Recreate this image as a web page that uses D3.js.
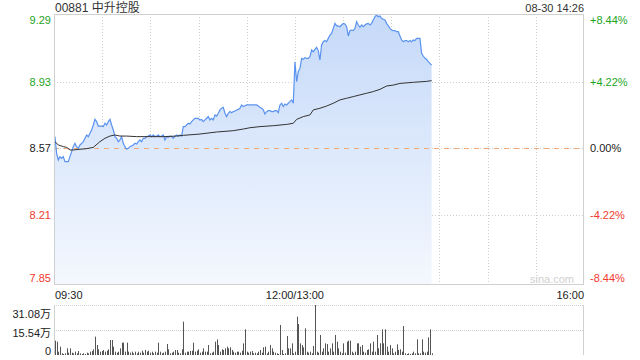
<!DOCTYPE html>
<html><head><meta charset="utf-8">
<script src="https://cdn.jsdelivr.net/npm/d3@7/dist/d3.min.js"></script>
<style>body{margin:0;background:#fff}svg{display:block}</style>
</head><body>
<svg id="c" width="640" height="360"></svg>
<script>
const stockTitle = "00881 中升控股";
const stampText = "08-30 14:26";
const prevClose = 8.57;
const priceTicks = [9.29, 8.93, 8.57, 8.21, 7.85];
const pctTicks = ["+8.44%", "+4.22%", "0.00%", "-4.22%", "-8.44%"];
const timeTicks = [0, 150, 330];
const timeLabels = ["09:30", "12:00/13:00", "16:00"];
const volTickValues = [31.08, 15.54, 0];
const volTickLabels = ["31.08万", "15.54万", "0"];
const sessionMinutes = 330;
const sampleStart = 0.6;    // minutes after 09:30 of first sample
const sampleStep = 1.0377;  // minutes between samples

const prices = [
8.634,8.544,8.508,8.526,8.517,8.526,8.499,8.499,8.499,8.526,
8.553,8.580,8.598,8.580,8.571,8.589,8.598,8.607,8.625,8.643,
8.634,8.652,8.670,8.697,8.727,8.715,8.691,8.691,8.691,8.688,
8.706,8.697,8.715,8.727,8.697,8.670,8.634,8.625,8.607,8.616,
8.634,8.598,8.580,8.566,8.571,8.580,8.584,8.589,8.598,8.594,
8.607,8.616,8.607,8.625,8.625,8.634,8.637,8.643,8.634,8.643,
8.634,8.637,8.643,8.634,8.637,8.643,8.616,8.634,8.630,8.637,
8.634,8.625,8.637,8.643,8.637,8.643,8.637,8.688,8.688,8.697,
8.706,8.702,8.715,8.724,8.733,8.733,8.733,8.724,8.727,8.715,
8.724,8.733,8.742,8.724,8.733,8.724,8.751,8.745,8.760,8.778,
8.787,8.792,8.760,8.742,8.760,8.769,8.763,8.769,8.772,8.778,
8.781,8.787,8.805,8.796,8.801,8.805,8.805,8.805,8.805,8.805,
8.805,8.805,8.799,8.792,8.787,8.778,8.756,8.769,8.774,8.774,
8.769,8.769,8.774,8.774,8.763,8.805,8.814,8.796,8.810,8.805,
8.814,8.823,8.832,8.814,9.038,8.930,8.984,9.002,9.056,9.051,
9.060,9.056,9.056,9.065,9.101,9.092,9.105,9.116,9.098,9.047,
9.128,9.146,9.152,9.146,9.164,9.182,9.191,9.218,9.245,9.231,
9.231,9.227,9.236,9.245,9.242,9.227,9.177,9.206,9.209,9.206,
9.218,9.254,9.236,9.224,9.236,9.227,9.236,9.242,9.245,9.236,
9.245,9.263,9.281,9.290,9.281,9.285,9.272,9.267,9.263,9.245,
9.231,9.218,9.209,9.206,9.206,9.200,9.200,9.177,9.155,9.146,
9.152,9.152,9.146,9.152,9.146,9.155,9.152,9.164,9.164,9.164,
9.083,9.069,9.056,9.051,9.038,9.029,9.020
];

const avgIndex = [0,2,5,7,9,11,15,19,23,27,30,33,36,39,43,49,57,65,73,77,87,97,107,113,117,123,131,139,143,145,149,153,155,159,163,167,171,175,179,183,187,191,195,199,203,207,215,223,226];
const avgPrice = [8.607,8.589,8.580,8.576,8.562,8.562,8.566,8.569,8.576,8.607,8.625,8.637,8.643,8.637,8.637,8.634,8.634,8.634,8.637,8.641,8.648,8.659,8.666,8.675,8.682,8.688,8.693,8.700,8.706,8.727,8.742,8.751,8.778,8.787,8.799,8.814,8.832,8.841,8.850,8.859,8.868,8.877,8.889,8.907,8.912,8.921,8.927,8.932,8.936];

// volume in 万 shares
const volumes = [
8.91,8.29,2.07,5.18,1.04,0.62,1.04,4.14,1.45,4.14,
1.45,1.04,2.07,1.04,2.49,1.04,0.62,1.04,0.62,1.45,
1.04,2.07,2.49,3.52,11.40,6.22,3.52,2.07,2.49,3.11,
2.07,2.69,3.52,9.32,9.32,5.18,2.07,1.45,2.07,4.14,
7.67,7.67,2.07,7.67,2.07,1.45,2.07,1.04,2.07,1.04,
2.07,1.45,2.69,1.45,3.11,2.07,2.69,1.45,2.07,1.04,
2.07,1.45,7.67,2.07,1.04,1.45,2.07,6.84,3.52,1.04,
1.45,2.07,3.11,3.11,1.45,1.04,3.52,20.72,1.45,2.07,
2.07,2.49,2.69,7.67,2.07,2.69,3.52,1.45,2.07,4.14,
2.07,2.07,6.22,1.04,1.45,2.07,8.29,9.74,6.22,2.07,
3.52,3.11,4.14,5.18,4.14,4.77,3.11,2.07,1.45,2.07,
2.07,1.45,2.69,7.25,15.95,2.07,1.45,2.07,2.49,1.04,
1.45,1.04,2.07,3.11,1.45,4.77,5.18,1.04,2.07,6.22,
4.14,2.07,1.45,1.04,0.62,18.65,3.11,0.62,1.04,11.81,
4.14,4.14,7.25,1.04,2.07,23.83,19.27,7.25,6.22,4.77,
16.58,2.07,1.45,2.07,1.04,5.59,31.08,2.07,1.45,12.43,
2.07,4.14,7.25,6.84,2.07,4.14,7.25,2.07,12.43,8.29,
4.14,2.07,1.04,7.25,1.45,8.29,8.91,8.91,2.07,1.04,
2.07,7.25,7.25,5.18,6.22,2.07,1.45,3.11,3.52,7.25,
2.07,8.29,2.07,12.43,4.14,7.25,15.95,7.25,15.95,5.18,
2.07,6.22,4.14,1.04,2.07,6.63,3.11,3.52,2.07,18.03,
1.04,0.62,1.04,0.62,1.04,2.07,1.04,9.74,1.04,1.04,
9.74,2.07,1.45,2.07,10.98,15.95,1.04
];

const GREEN = "#1ea51e", RED = "#f03a2e", DARK = "#222";
const FONT = "Arial, 'Liberation Sans', 'Noto Sans CJK SC', sans-serif";
const svg = d3.select("#c").style("font-family", FONT);

const L = 54, R = 584, T = 14, B = 284;
const VT = 305, VB = 355;
const x = d3.scaleLinear().domain([0, sessionMinutes]).range([L, R]);
const y = d3.scaleLinear().domain([7.85, 9.29]).range([282, 15]);
const yv = d3.scaleLinear().domain([0, 31.08]).range([VB, VT]);
const tOf = i => sampleStart + i * sampleStep;

const defs = svg.append("defs");
const grad = defs.append("linearGradient").attr("id", "fillG")
  .attr("gradientUnits", "userSpaceOnUse").attr("x1", 0).attr("x2", 0).attr("y1", T).attr("y2", B);
grad.append("stop").attr("offset", 0).attr("stop-color", "#c5d9f9");
grad.append("stop").attr("offset", 1).attr("stop-color", "#f4f8fe");

// title
svg.append("text").attr("x", L + 1).attr("y", 12).attr("font-size", 12).attr("fill", "#333").text(stockTitle);
svg.append("text").attr("x", R).attr("y", 12).attr("font-size", 11).attr("text-anchor", "end").attr("fill", "#333").text(stampText);

// grid
const gridMinutes = d3.range(30, sessionMinutes, 30);
svg.append("g").selectAll("line").data(gridMinutes).join("line")
  .attr("x1", d => Math.round(x(d)) + 0.5).attr("x2", d => Math.round(x(d)) + 0.5)
  .attr("y1", T).attr("y2", B).attr("stroke", "#cfcfcf").attr("stroke-dasharray", "1,2");
svg.append("g").selectAll("line").data(priceTicks.slice(1, 4)).join("line")
  .attr("x1", L).attr("x2", R)
  .attr("y1", d => Math.round(y(d)) + 0.5).attr("y2", d => Math.round(y(d)) + 0.5)
  .attr("stroke", "#cfcfcf").attr("stroke-dasharray", "1,2");

// area + lines
const pts = prices.map((p, i) => [tOf(i), p]);
svg.append("path").datum(pts)
  .attr("d", d3.area().x(d => x(d[0])).y0(B).y1(d => y(d[1])))
  .attr("fill", "url(#fillG)");

svg.append("line").attr("x1", L).attr("x2", R)
  .attr("y1", Math.round(y(prevClose)) + 0.5).attr("y2", Math.round(y(prevClose)) + 0.5)
  .attr("stroke", "#f0a878").attr("stroke-width", 1).attr("stroke-dasharray", "5,5");

svg.append("path").datum(pts)
  .attr("d", d3.line().x(d => x(d[0])).y(d => y(d[1])))
  .attr("fill", "none").attr("stroke", "#5a93ef").attr("stroke-width", 1.2);

const avgPts = avgIndex.map((k, j) => [tOf(k), avgPrice[j]]);
svg.append("path").datum(avgPts)
  .attr("d", d3.line().x(d => x(d[0])).y(d => y(d[1])))
  .attr("fill", "none").attr("stroke", "#333").attr("stroke-width", 1);

// border
svg.append("rect").attr("x", L + 0.5).attr("y", T + 0.5).attr("width", R - L - 1).attr("height", B - T)
  .attr("fill", "none").attr("stroke", "#d0d0d0");

// watermark
svg.append("text").attr("x", R - 10).attr("y", 283).attr("text-anchor", "end")
  .attr("font-size", 11).attr("fill", "#d0d0d0").text("sina.com");

// price axis labels
const tickColor = v => v > prevClose ? GREEN : (v < prevClose ? RED : DARK);
svg.append("g").selectAll("text").data(priceTicks).join("text")
  .attr("x", 51).attr("y", d => Math.min(Math.max(y(d), 20), 278))
  .attr("dy", "0.35em").attr("text-anchor", "end").attr("font-size", 11)
  .attr("fill", tickColor).text(d => d.toFixed(2));
svg.append("g").selectAll("text").data(priceTicks).join("text")
  .attr("x", 590).attr("y", d => Math.min(Math.max(y(d), 20), 278))
  .attr("dy", "0.35em").attr("text-anchor", "start").attr("font-size", 11)
  .attr("fill", tickColor).text((d, i) => pctTicks[i]);

// time labels
svg.append("g").selectAll("text").data(timeTicks).join("text")
  .attr("x", (d, i) => i === 0 ? L + 1 : (i === timeTicks.length - 1 ? R : x(d)))
  .attr("y", 295).attr("dy", "0.35em")
  .attr("text-anchor", (d, i) => i === 0 ? "start" : (i === timeTicks.length - 1 ? "end" : "middle"))
  .attr("font-size", 11).attr("fill", DARK).text((d, i) => timeLabels[i]);

// volume panel
svg.append("g").selectAll("line").data([VT, yv(15.54)]).join("line")
  .attr("x1", L).attr("x2", R).attr("y1", d => Math.round(d) + 0.5).attr("y2", d => Math.round(d) + 0.5)
  .attr("stroke", "#cfcfcf").attr("stroke-dasharray", "1,1");
svg.append("line").attr("x1", L + 0.5).attr("x2", L + 0.5).attr("y1", VT).attr("y2", VB).attr("stroke", "#d0d0d0");
svg.append("line").attr("x1", R - 0.5).attr("x2", R - 0.5).attr("y1", VT).attr("y2", VB).attr("stroke", "#d0d0d0");

svg.append("g").selectAll("rect").data(volumes).join("rect")
  .attr("x", (d, i) => Math.round(x(tOf(i))))
  .attr("width", 1)
  .attr("y", d => yv(d)).attr("height", d => VB - yv(d))
  .attr("fill", "#555");

const volLabelY = [VT + 9, yv(15.54) + 3, VB - 4];
svg.append("g").selectAll("text").data(volTickValues).join("text")
  .attr("x", 51).attr("y", (d, i) => volLabelY[i]).attr("dy", "0.35em")
  .attr("text-anchor", "end").attr("font-size", 11).attr("fill", DARK)
  .text((d, i) => volTickLabels[i]);
</script>
</body></html>
